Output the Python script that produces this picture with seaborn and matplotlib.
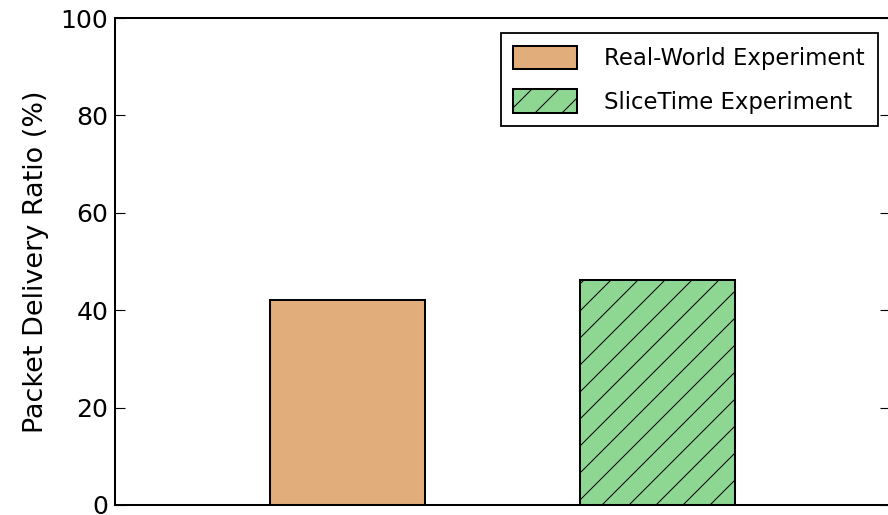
import matplotlib
matplotlib.use("Agg")
import matplotlib.pyplot as plt
import seaborn as sns
import pandas as pd

# Packet delivery ratio measured in both setups
experiments = ["Real-World Experiment", "SliceTime Experiment"]
delivery_ratio = [42.0, 46.2]
bar_colors = ["#E1AE7B", "#8DD793"]
bar_hatches = ["", "//"]
y_ticks = [0, 20, 40, 60, 80, 100]

df = pd.DataFrame({"experiment": experiments, "ratio": delivery_ratio})

sns.set_theme(style="white")
plt.rcParams["font.family"] = ["DejaVu Sans"]
plt.rcParams["text.color"] = "black"
plt.rcParams["axes.labelcolor"] = "black"
plt.rcParams["hatch.linewidth"] = 0.45
plt.rcParams["hatch.color"] = "black"

DPI = 162
fig = plt.figure(figsize=(888 / DPI, 515 / DPI), dpi=DPI)
ax = fig.add_axes([115 / 888, 10 / 515, 775 / 888, 487 / 515])

sns.barplot(
    data=df, x="experiment", y="ratio", hue="experiment",
    palette=bar_colors, width=0.5, dodge=False, legend=False,
    edgecolor="black", linewidth=0.9, saturation=1, ax=ax,
)

handles = []
for container, hatch in zip(ax.containers, bar_hatches):
    for bar in container:
        bar.set_hatch(hatch)
    handles.append(container[0])

ax.set_xlim(-0.75, 1.75)
ax.set_ylim(0, 100)
ax.set_yticks(y_ticks)
ax.set_xticks([])
ax.set_xlabel("")
ax.set_ylabel("Packet Delivery Ratio (%)", fontsize=12.0, color="black")
ax.yaxis.set_label_coords(-0.085, 0.5)

ax.tick_params(axis="y", direction="in", left=True, right=True,
               length=4.4, width=0.5, color="black", labelsize=11.2,
               labelcolor="black", pad=3.0)

for spine in ax.spines.values():
    spine.set_visible(True)
    spine.set_color("black")
    spine.set_linewidth(0.9)

leg = ax.legend(
    handles=handles, labels=experiments, loc="upper right",
    bbox_to_anchor=(0.9839, 0.9692), borderaxespad=0,
    fontsize=10.1, frameon=True, fancybox=False, framealpha=1,
    edgecolor="black", handlelength=2.8, handleheight=1.2,
    handletextpad=1.2, borderpad=0.56, labelspacing=0.85,
)
leg.get_frame().set_linewidth(0.8)
for txt in leg.get_texts():
    txt.set_color("black")

fig.savefig("out.png", dpi=DPI)
